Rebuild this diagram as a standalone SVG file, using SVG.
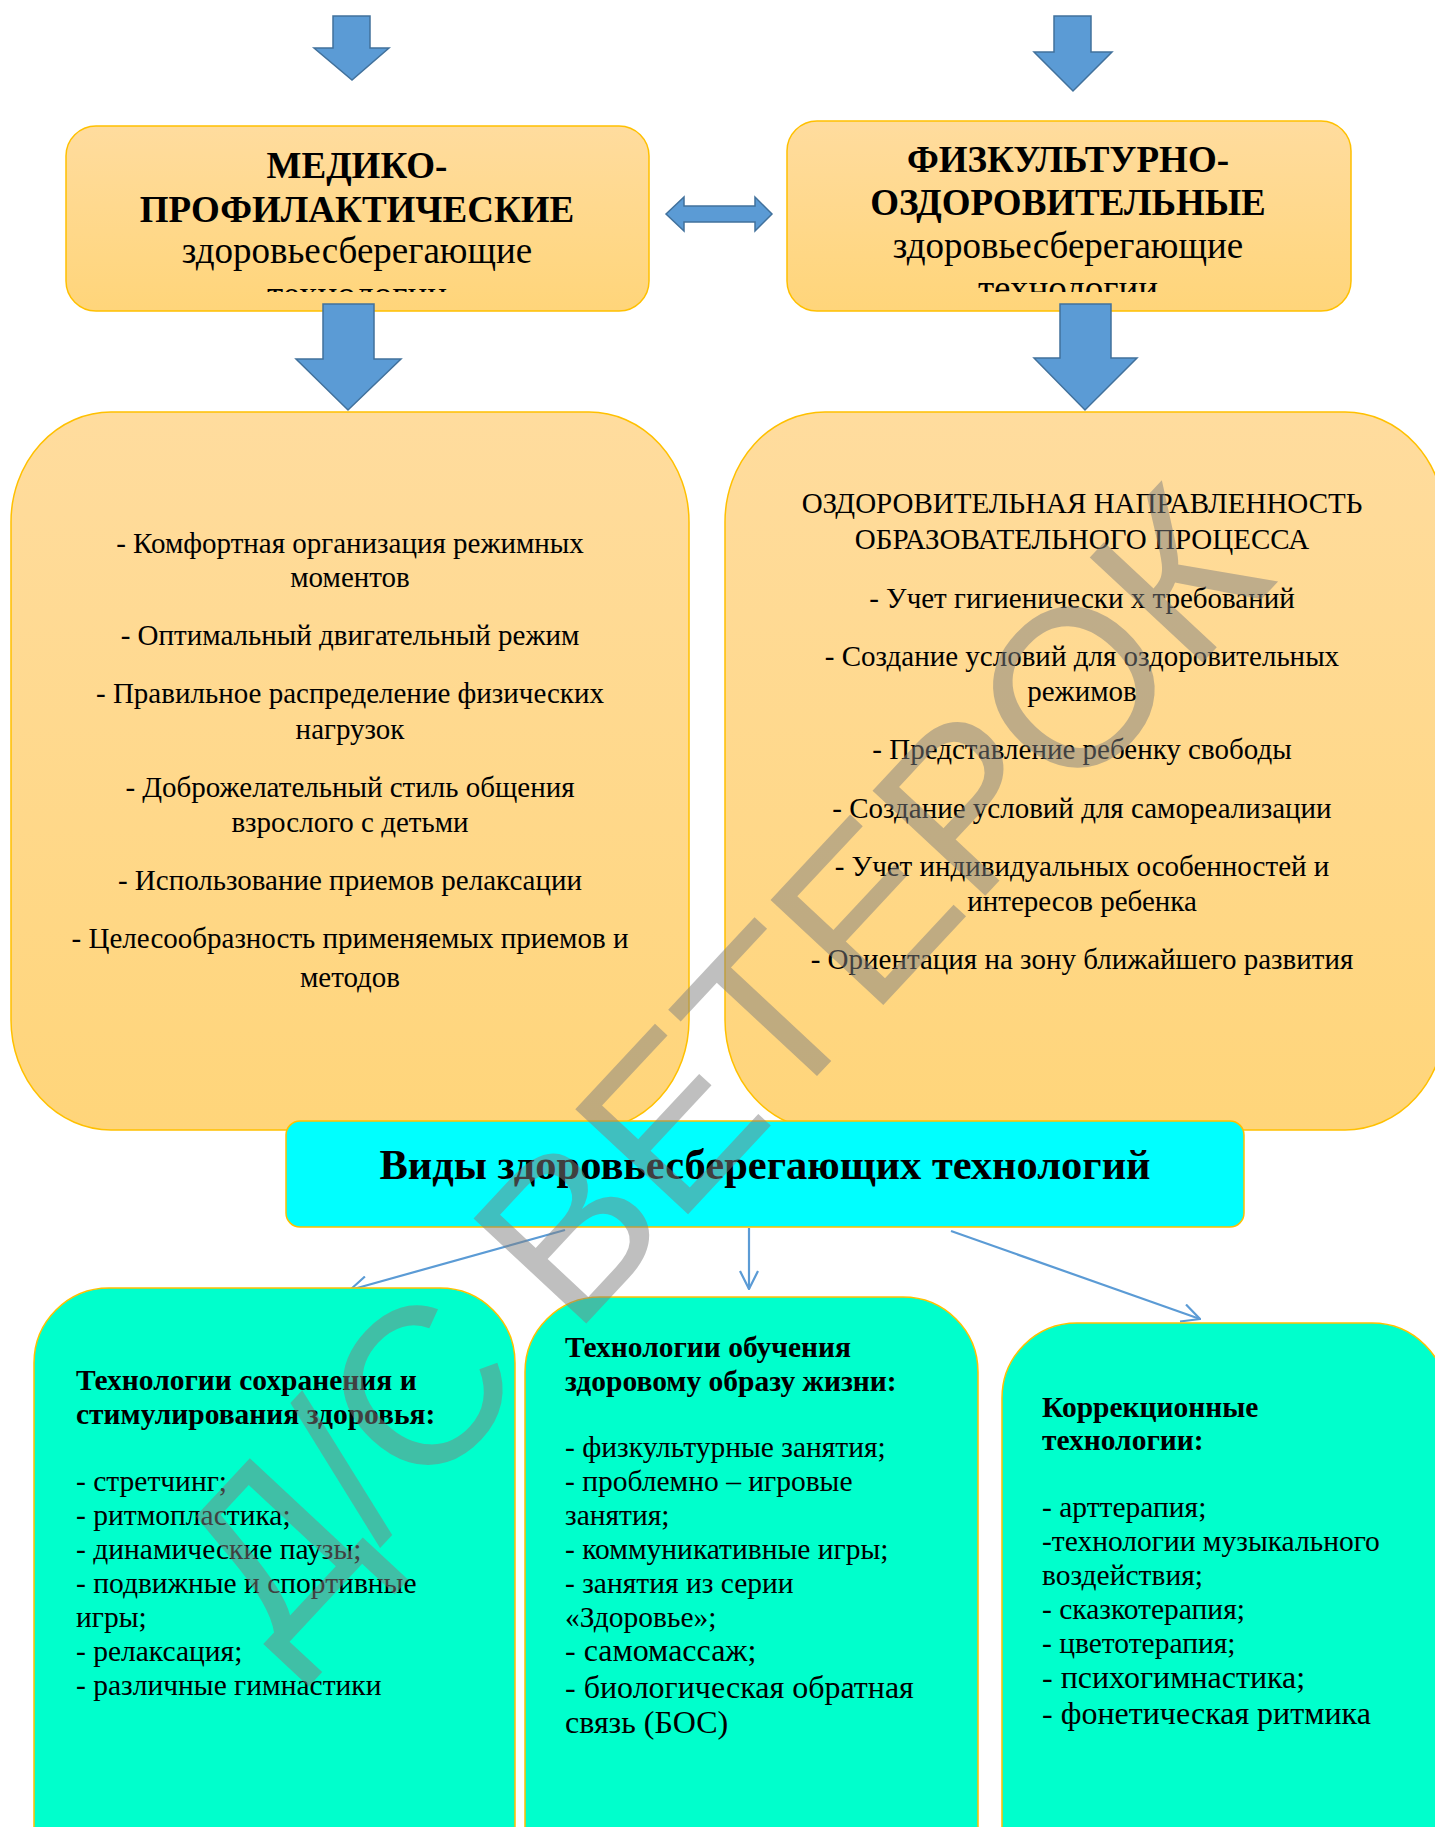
<svg xmlns="http://www.w3.org/2000/svg" width="1435" height="1827" viewBox="0 0 1435 1827">
<style>
.t{font-family:"Liberation Serif","Times New Roman",serif;fill:#000}
.c{text-anchor:middle}
.b{font-weight:bold}
.hd{font-size:37px}
.m{font-size:29px}
.s{font-size:29.5px}
.s2{font-size:32px}
.ybox{fill:url(#yg);stroke:#FFC000;stroke-width:1.5}
.gbox{fill:#00FFCC;stroke:#FFC000;stroke-width:1.5}
.arr{fill:#5B9BD5;stroke:#41719C;stroke-width:1.5}
.con{fill:none;stroke:#5B9BD5;stroke-width:2.2;marker-end:url(#open)}
.wm{font-family:"Liberation Sans",Arial,sans-serif;font-size:224px;fill:#808080;fill-opacity:0.5}
</style>
<defs>
<linearGradient id="yg" x1="0" y1="0" x2="0" y2="1">
<stop offset="0" stop-color="#FFDC9E"/>
<stop offset="1" stop-color="#FFD57A"/>
</linearGradient>
<marker id="open" viewBox="0 0 20 20" refX="19" refY="10" markerWidth="20" markerHeight="20" markerUnits="userSpaceOnUse" orient="auto">
<path d="M1,1 L19,10 L1,19" fill="none" stroke="#5B9BD5" stroke-width="2.2"/>
</marker>
<clipPath id="clip1"><rect x="60" y="120" width="600" height="172"/></clipPath>
<clipPath id="clip2"><rect x="780" y="115" width="580" height="177"/></clipPath>
</defs>
<rect width="1435" height="1827" fill="#fff"/>

<g id="arrows-top">
<path class="arr" d="M333,16 H370 V48 H389 L352,80 L314,48 H333 Z"/>
<path class="arr" d="M1054,16 H1091 V52 H1112 L1073,91 L1034,52 H1054 Z"/>
</g>

<g id="node-medico">
<rect class="ybox" x="66" y="126" width="583" height="185" rx="30" ry="30"/>
<g clip-path="url(#clip1)">
<text class="t c b hd" x="357" y="178">МЕДИКО-</text>
<text class="t c b hd" x="357" y="222">ПРОФИЛАКТИЧЕСКИЕ</text>
<text class="t c hd" x="357" y="263">здоровьесберегающие</text>
<text class="t c hd" x="357" y="307">технологии</text>
</g>
</g>

<g id="node-fizkult">
<rect class="ybox" x="787" y="121" width="564" height="190" rx="30" ry="30"/>
<g clip-path="url(#clip2)">
<text class="t c b hd" x="1068" y="172">ФИЗКУЛЬТУРНО-</text>
<text class="t c b hd" x="1068" y="215">ОЗДОРОВИТЕЛЬНЫЕ</text>
<text class="t c hd" x="1068" y="258">здоровьесберегающие</text>
<text class="t c hd" x="1068" y="301">технологии</text>
</g>
</g>

<g id="arrow-double">
<path class="arr" d="M666,214 L684,197 V206 H755 V197 L772,214 L755,231 V222 H684 V231 Z"/>
</g>

<g id="arrows-down">
<path class="arr" d="M323,304 H374 V359 H401 L348,410 L296,359 H323 Z"/>
<path class="arr" d="M1060,304 H1111 V358 H1137 L1085,410 L1034,358 H1060 Z"/>
</g>

<g id="node-left-list">
<rect class="ybox" x="11" y="412" width="678" height="718" rx="100" ry="110"/>
<text class="t c m" x="350" y="553">- Комфортная организация режимных</text>
<text class="t c m" x="350" y="587">моментов</text>
<text class="t c m" x="350" y="645">- Оптимальный двигательный режим</text>
<text class="t c m" x="350" y="703">- Правильное распределение физических</text>
<text class="t c m" x="350" y="739">нагрузок</text>
<text class="t c m" x="350" y="797">- Доброжелательный стиль общения</text>
<text class="t c m" x="350" y="832">взрослого с детьми</text>
<text class="t c m" x="350" y="890">- Использование приемов релаксации</text>
<text class="t c m" x="350" y="948">- Целесообразность применяемых приемов и</text>
<text class="t c m" x="350" y="987">методов</text>
</g>

<g id="node-right-list">
<rect class="ybox" x="725" y="412" width="720" height="718" rx="100" ry="110"/>
<text class="t c m" x="1082" y="513" font-size="29.5">ОЗДОРОВИТЕЛЬНАЯ НАПРАВЛЕННОСТЬ</text>
<text class="t c m" x="1082" y="549" font-size="29.5">ОБРАЗОВАТЕЛЬНОГО ПРОЦЕССА</text>
<text class="t c m" x="1082" y="608">- Учет гигиенически х требований</text>
<text class="t c m" x="1082" y="666">- Создание условий для оздоровительных</text>
<text class="t c m" x="1082" y="701">режимов</text>
<text class="t c m" x="1082" y="759">- Представление ребенку свободы</text>
<text class="t c m" x="1082" y="818">- Создание условий для самореализации</text>
<text class="t c m" x="1082" y="876">- Учет индивидуальных особенностей и</text>
<text class="t c m" x="1082" y="911">интересов ребенка</text>
<text class="t c m" x="1082" y="969">- Ориентация на зону ближайшего развития</text>
</g>

<g id="node-vidy">
<rect x="286" y="1121" width="958" height="106" rx="14" ry="14" fill="#00FFFF" stroke="#FFC000" stroke-width="1.5"/>
<text class="t c b" x="765" y="1179" font-size="42.5">Виды здоровьесберегающих технологий</text>
</g>

<g id="connectors">
<path class="con" d="M565,1230 L350,1290"/>
<path class="con" d="M749,1228 L749,1289"/>
<path class="con" d="M951,1231 L1200,1319"/>
</g>

<g id="node-sohr">
<rect class="gbox" x="34" y="1288" width="481" height="650" rx="75" ry="75"/>
<text class="t b s" x="76" y="1390">Технологии сохранения и</text>
<text class="t b s" x="76" y="1424">стимулирования здоровья:</text>
<text class="t s" x="76" y="1491">- стретчинг;</text>
<text class="t s" x="76" y="1525">- ритмопластика;</text>
<text class="t s" x="76" y="1559">- динамические паузы;</text>
<text class="t s" x="76" y="1593">- подвижные и спортивные</text>
<text class="t s" x="76" y="1627">игры;</text>
<text class="t s" x="76" y="1661">- релаксация;</text>
<text class="t s" x="76" y="1695">- различные гимнастики</text>
</g>

<g id="node-obuch">
<rect class="gbox" x="525" y="1297" width="453" height="640" rx="75" ry="75"/>
<text class="t b s" x="565" y="1357">Технологии обучения</text>
<text class="t b s" x="565" y="1391">здоровому образу жизни:</text>
<text class="t s" x="565" y="1457">- физкультурные занятия;</text>
<text class="t s" x="565" y="1491">- проблемно – игровые</text>
<text class="t s" x="565" y="1525">занятия;</text>
<text class="t s" x="565" y="1559">- коммуникативные игры;</text>
<text class="t s" x="565" y="1593">- занятия из серии</text>
<text class="t s" x="565" y="1627">«Здоровье»;</text>
<text class="t s2" x="565" y="1661">- самомассаж;</text>
<text class="t s2" x="565" y="1698">- биологическая обратная</text>
<text class="t s2" x="565" y="1733">связь (БОС)</text>
</g>

<g id="node-korr">
<rect class="gbox" x="1002" y="1323" width="445" height="620" rx="75" ry="75"/>
<text class="t b s" x="1042" y="1417">Коррекционные</text>
<text class="t b s" x="1042" y="1450">технологии:</text>
<text class="t s" x="1042" y="1517">- арттерапия;</text>
<text class="t s" x="1042" y="1551">-технологии музыкального</text>
<text class="t s" x="1042" y="1585">воздействия;</text>
<text class="t s" x="1042" y="1619">- сказкотерапия;</text>
<text class="t s" x="1042" y="1653">- цветотерапия;</text>
<text class="t s2" x="1042" y="1688">- психогимнастика;</text>
<text class="t s2" x="1042" y="1724">- фонетическая ритмика</text>
</g>

<text class="wm" text-anchor="middle" transform="translate(777,1119) rotate(-47)">Д/С ВЕТЕРОК</text>
</svg>
